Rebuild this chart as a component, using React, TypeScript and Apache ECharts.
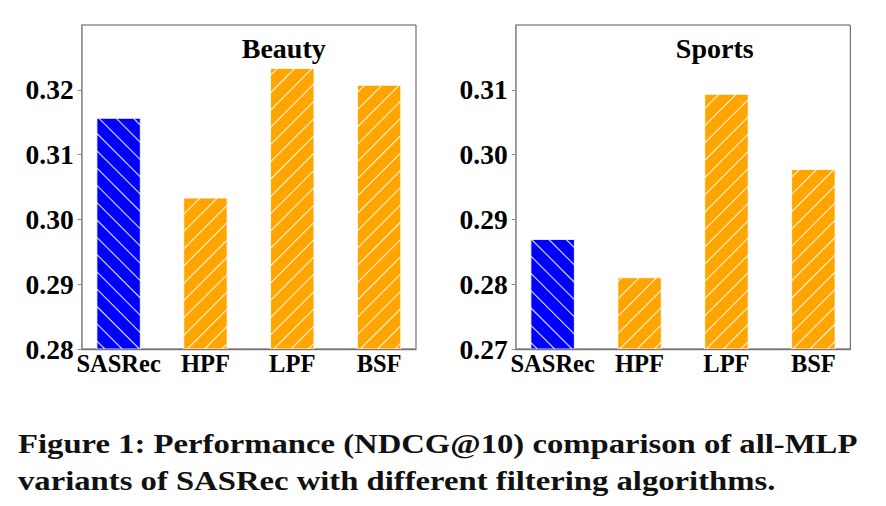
import React, { useEffect, useRef } from "react";
import * as echarts from "echarts";

const CATEGORIES = ["SASRec", "HPF", "LPF", "BSF"];
const BEAUTY_VALUES = [0.3156, 0.3033, 0.3233, 0.3207];
const SPORTS_VALUES = [0.2869, 0.281, 0.3093, 0.2977];
const BEAUTY_TICKS = { min: 0.28, max: 0.33 };
const SPORTS_TICKS = { min: 0.27, max: 0.32 };
const BAR_COLORS = ["#0000ff", "#ffa500", "#ffa500", "#ffa500"];
const BAR_HATCH = ["\\", "/", "/", "/"];
const TITLES = ["Beauty", "Sports"];
const CAPTION = [
  "Figure 1: Performance (NDCG@10) comparison of all-MLP",
  "variants of SASRec with different filtering algorithms.",
];

const SERIF = "Liberation Serif, serif";
const BAR_W = 0.5;
const HATCH_STEP = 17.3;

function makeRenderItem(yMin: number) {
  return (params: any, api: any) => {
    const xi = api.value(0);
    const v = api.value(1);
    const top = api.coord([xi, v]);
    const bot = api.coord([xi, yMin]);
    const w = api.size([BAR_W, 0])[0];
    const x0 = top[0] - w / 2;
    const x1 = top[0] + w / 2;
    const y0 = top[1];
    const y1 = bot[1];
    const idx = params.dataIndex;
    const children: any[] = [
      {
        type: "rect",
        shape: { x: x0, y: y0, width: w, height: y1 - y0 },
        style: { fill: BAR_COLORS[idx], stroke: "rgba(255,255,255,0.85)", lineWidth: 1 },
      },
    ];
    const lineStyle = { stroke: "rgba(255,255,255,0.85)", lineWidth: 1.1 };
    if (BAR_HATCH[idx] === "/") {
      const kStart = Math.ceil((x0 + y0) / HATCH_STEP);
      const kEnd = Math.floor((x1 + y1) / HATCH_STEP);
      for (let k = kStart; k <= kEnd; k++) {
        const c = k * HATCH_STEP;
        const xa = Math.max(x0, c - y1);
        const xb = Math.min(x1, c - y0);
        if (xb - xa > 0.5) {
          children.push({ type: "line", shape: { x1: xa, y1: c - xa, x2: xb, y2: c - xb }, style: lineStyle });
        }
      }
    } else {
      const phase = 15.3;
      const kStart = Math.ceil((x0 - y1 - phase) / HATCH_STEP);
      const kEnd = Math.floor((x1 - y0 - phase) / HATCH_STEP);
      for (let k = kStart; k <= kEnd; k++) {
        const c = k * HATCH_STEP + phase;
        const xa = Math.max(x0, c + y0);
        const xb = Math.min(x1, c + y1);
        if (xb - xa > 0.5) {
          children.push({ type: "line", shape: { x1: xa, y1: xa - c, x2: xb, y2: xb - c }, style: lineStyle });
        }
      }
    }
    return { type: "group", children };
  };
}

export default function App() {
  const ref = useRef<HTMLDivElement>(null);
  useEffect(() => {
    document.body.style.margin = "0";
    if (!ref.current) return;
    const chart = echarts.init(ref.current, undefined, { renderer: "svg" });

    const capFont = `bold 27px ${SERIF}`;
    const ctx = document.createElement("canvas").getContext("2d");
    let sx = 1;
    if (ctx) {
      ctx.font = capFont;
      const w1 = ctx.measureText(CAPTION[0]).width;
      if (w1 > 0) sx = 840 / w1;
    }

    const grids = [
      { left: 81.7, top: 25, width: 334.3, height: 324 },
      { left: 515.7, top: 25, width: 334.6, height: 324 },
    ];
    const ranges = [BEAUTY_TICKS, SPORTS_TICKS];
    const values = [BEAUTY_VALUES, SPORTS_VALUES];

    const xAxes = grids.map((_, i) => ({
      gridIndex: i,
      type: "value",
      min: -0.425,
      max: 3.425,
      axisLine: { show: true, onZero: false, lineStyle: { color: "#777", width: 1.3 } },
      axisTick: { show: false },
      splitLine: { show: false },
      axisLabel: {
        customValues: [0, 1, 2, 3],
        formatter: (v: number) => CATEGORIES[Math.round(v)] ?? "",
        fontFamily: SERIF,
        fontWeight: "bold",
        fontSize: 24.5,
        color: "#000",
        margin: 2,
      },
    }));
    const yAxes = grids.map((_, i) => ({
      gridIndex: i,
      type: "value",
      min: ranges[i].min,
      max: ranges[i].max,
      interval: 0.01,
      axisLine: { show: true, onZero: false, lineStyle: { color: "#999", width: 1.6 } },
      axisTick: { show: true, inside: false, length: 4, lineStyle: { color: "#888", width: 1 } },
      splitLine: { show: false },
      axisLabel: {
        formatter: (v: number) => v.toFixed(2),
        showMaxLabel: false,
        fontFamily: SERIF,
        fontWeight: "bold",
        fontSize: 27.5,
        color: "#000",
        margin: 8,
      },
    }));
    const series = grids.map((_, i) => ({
      type: "custom",
      xAxisIndex: i,
      yAxisIndex: i,
      renderItem: makeRenderItem(ranges[i].min),
      encode: { x: 0, y: 1 },
      data: values[i].map((v, j) => [j, v]),
      clip: true,
    }));

    const titleX = [283.7, 714.7];
    const graphic: any[] = TITLES.map((t, i) => ({
      type: "text",
      x: titleX[i],
      y: 48.5,
      style: {
        text: t,
        font: `bold 28px ${SERIF}`,
        fill: "#000",
        align: "center",
        verticalAlign: "middle",
        textAlign: "center",
        textVerticalAlign: "middle",
      },
    }));
    const capY = [444, 481];
    CAPTION.forEach((line, i) => {
      graphic.push({
        type: "text",
        x: 18,
        y: capY[i],
        scaleX: sx,
        style: {
          text: line,
          font: capFont,
          fill: "#111",
          align: "left",
          verticalAlign: "middle",
          textAlign: "left",
          textVerticalAlign: "middle",
        },
      });
    });

    chart.setOption({
      animation: false,
      backgroundColor: "#fff",
      grid: grids.map((g) => ({ ...g, show: true, borderColor: "#555", borderWidth: 1, containLabel: false })),
      xAxis: xAxes,
      yAxis: yAxes,
      series,
      graphic,
    } as any);
    return () => chart.dispose();
  }, []);
  return <div ref={ref} style={{ width: 886, height: 506 }} />;
}
